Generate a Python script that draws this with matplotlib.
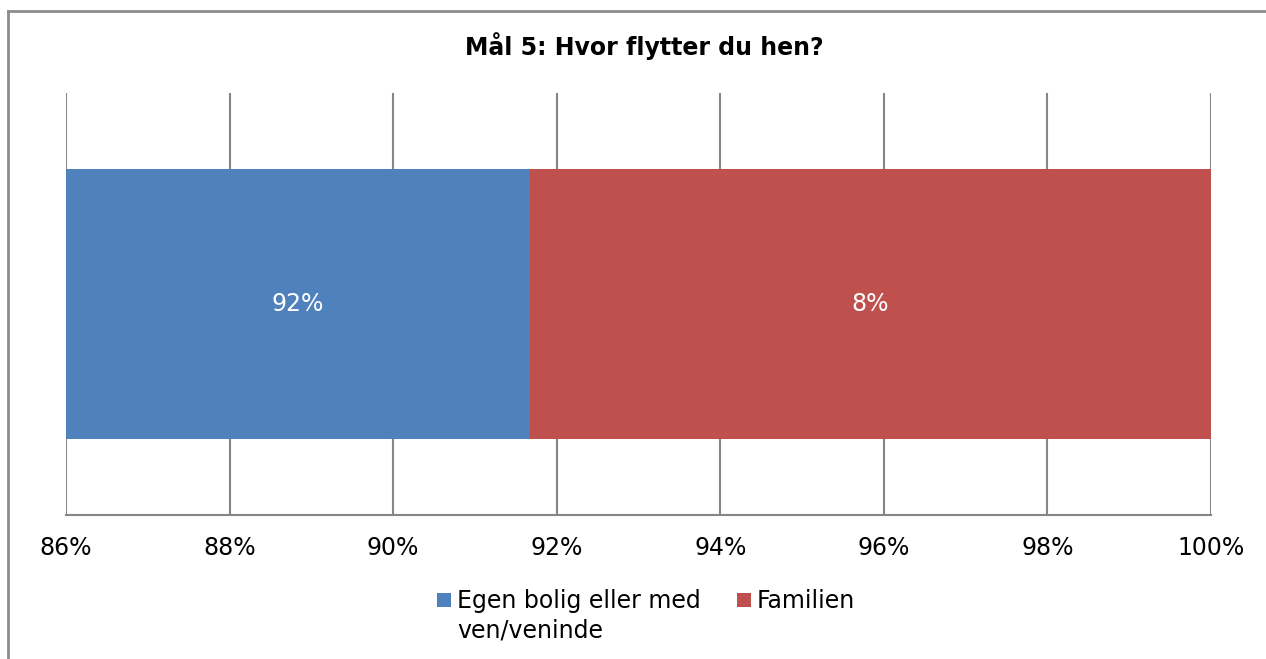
import matplotlib
matplotlib.use("Agg")
import matplotlib.pyplot as plt
from matplotlib.patches import Rectangle
from matplotlib.lines import Line2D

title = "Mål 5: Hvor flytter du hen?"
categories = ["Egen bolig eller med\nven/veninde", "Familien"]
values = [0.9167, 0.0833]
value_labels = ["92%", "8%"]
colors = ["#4F81BD", "#C0504D"]
xticks = [0.86, 0.88, 0.90, 0.92, 0.94, 0.96, 0.98, 1.00]
xtick_labels = ["86%", "88%", "90%", "92%", "94%", "96%", "98%", "100%"]

W, H = 1266, 659
fig = plt.figure(figsize=(W / 100, H / 100), dpi=100)
plt.rcParams['font.family'] = ['DejaVu Sans']

def fx(px):
    return px / W

def fy(py):
    return 1 - py / H

ax = fig.add_axes([fx(66), fy(515), fx(1211) - fx(66), fy(93) - fy(515)])

xmin, xmax = xticks[0], xticks[-1]
left = 0.0
for v, c, lab in zip(values, colors, value_labels):
    ax.barh(0, v, left=left, height=0.642, color=c, edgecolor='none', zorder=2)
    vis_l = max(left, xmin)
    vis_r = min(left + v, xmax)
    ax.text((vis_l + vis_r) / 2, 0, lab, ha='center', va='center',
            color='white', fontsize=17, zorder=3)
    left += v

ax.set_xlim(xmin, xmax)
ax.set_ylim(-0.5, 0.5)
ax.set_xticks(xticks)
ax.set_xticklabels(xtick_labels, fontsize=17)
ax.set_yticks([])
ax.tick_params(axis='x', length=0, pad=15)
ax.grid(axis='x', color='#868686', linewidth=1.5, zorder=1)
for s in ['top', 'right', 'left']:
    ax.spines[s].set_visible(False)
ax.spines['bottom'].set_color('#868686')
ax.spines['bottom'].set_linewidth(1.5)

fig.text(fx(644), fy(46), title, ha='center', va='center',
         fontsize=17, fontweight='bold')

# legend (manual, Excel-like alignment with first line)
leg_pos = [(437, 457), (737, 757)]
line_step = 29
for (sx, tx), c, lab in zip(leg_pos, colors, categories):
    fig.patches.append(Rectangle((fx(sx), fy(607)), fx(14), 14 / H,
                                 transform=fig.transFigure, facecolor=c,
                                 edgecolor='none'))
    for i, line in enumerate(lab.split("\n")):
        fig.text(fx(tx), fy(608 + i * line_step), line, ha='left',
                 va='baseline', fontsize=17)

# outer border
border = '#8C8C8C'
fig.lines.append(Line2D([fx(8), fx(8)], [fy(11), 0], transform=fig.transFigure,
                        color=border, linewidth=2))
fig.lines.append(Line2D([fx(8), 1], [fy(11), fy(11)], transform=fig.transFigure,
                        color=border, linewidth=2))

fig.savefig("out.png", dpi=100)
